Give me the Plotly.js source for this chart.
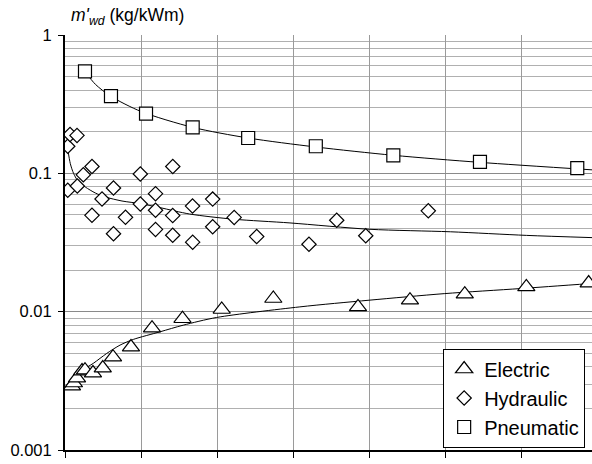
<!DOCTYPE html>
<html>
<head>
<meta charset="utf-8">
<script src="https://cdn.plot.ly/plotly-3.0.1.min.js"></script>
<style>html,body{margin:0;padding:0;overflow:hidden;background:#fff;}</style>
</head>
<body>
<div id="chart" style="width:592px;height:464px;"></div>
<script>
// ---- data ----
const electricX = [0.92, 1.18, 1.58, 2.24, 2.63, 3.68, 4.97, 6.32, 8.68, 11.45, 15.46, 20.62, 27.41, 38.55, 45.39, 52.6, 60.7, 68.9];
const electricY = [0.0029, 0.00305, 0.00331, 0.00372, 0.00378, 0.0036, 0.00391, 0.00469, 0.00555, 0.0076, 0.00889, 0.01037, 0.01245, 0.01083, 0.01211, 0.01337, 0.0151, 0.0161];

const hydraulicX = [0.36, 0.66, 1.58, 0.36, 1.62, 2.41, 3.55, 3.55, 4.87, 6.38, 6.38, 7.96, 9.91, 9.91, 11.91, 11.91, 11.91, 14.18, 14.17, 14.17, 16.78, 16.8, 19.43, 19.43, 22.26, 25.22, 32.1, 35.75, 39.57, 47.8];
const hydraulicY = [0.157, 0.191, 0.188, 0.0754, 0.081, 0.0975, 0.112, 0.0497, 0.0652, 0.0783, 0.0366, 0.0481, 0.0989, 0.06, 0.0713, 0.0541, 0.0393, 0.112, 0.0495, 0.0357, 0.058, 0.0318, 0.0651, 0.0411, 0.048, 0.0349, 0.0307, 0.0458, 0.0354, 0.0536];

const pneumaticX = [2.63, 6.05, 10.66, 16.8, 24.1, 33.0, 43.2, 54.6, 67.4];
const pneumaticY = [0.545, 0.361, 0.27, 0.215, 0.18, 0.157, 0.135, 0.121, 0.109];

// trend lines
const electricTrendX = [0.43, 1.97, 3.72, 5.49, 7.24, 8.99, 12.5, 15.57, 19.96, 30.9, 40.0, 49.9, 60.0, 69.34];
const electricTrendY = [0.0029, 0.00367, 0.00423, 0.00499, 0.00573, 0.0063, 0.00715, 0.00799, 0.00908, 0.01083, 0.0121, 0.0135, 0.0147, 0.016];
const hydraulicTrendX = [0.39, 0.70, 1.14, 1.80, 2.67, 3.99, 5.30, 7.5, 9.91, 12.5, 16.4, 22.2, 29.6, 40.1, 50.7, 60.7, 69.34];
const hydraulicTrendY = [0.1466, 0.1175, 0.0995, 0.0865, 0.0796, 0.0721, 0.0675, 0.0631, 0.0604, 0.0565, 0.0508, 0.0466, 0.0438, 0.0394, 0.0378, 0.0356, 0.0343];
const pneumaticTrendX = [2.63, 4, 6.05, 10, 16.8, 24.1, 33, 43.2, 54.6, 69.34];
const pneumaticTrendY = [0.545, 0.44, 0.36, 0.28, 0.215, 0.18, 0.155, 0.135, 0.12, 0.106];

const yTickVals = [0.001, 0.01, 0.1, 1];
const yTickText = ['0.001', '0.01', '0.1', '1'];
const seriesNames = ['Electric', 'Hydraulic', 'Pneumatic'];

const FONT = 'Liberation Sans, Arial, sans-serif';
const trendLine = {color: '#000', width: 1, shape: 'spline', smoothing: 0.8};

const traces = [
  {x: electricTrendX, y: electricTrendY, mode: 'lines', line: trendLine, showlegend: false, hoverinfo: 'skip'},
  {x: hydraulicTrendX, y: hydraulicTrendY, mode: 'lines', line: trendLine, showlegend: false, hoverinfo: 'skip'},
  {x: pneumaticTrendX, y: pneumaticTrendY, mode: 'lines', line: trendLine, showlegend: false, hoverinfo: 'skip'},
  {x: electricX, y: electricY, name: seriesNames[0], mode: 'markers',
   marker: {symbol: 'triangle-up', size: 15, color: '#fff', line: {color: '#000', width: 1.2}}},
  {x: hydraulicX, y: hydraulicY, name: seriesNames[1], mode: 'markers',
   marker: {symbol: 'diamond', size: 11, color: '#fff', line: {color: '#000', width: 1.2}}},
  {x: pneumaticX, y: pneumaticY, name: seriesNames[2], mode: 'markers',
   marker: {symbol: 'square', size: 13, color: '#fff', line: {color: '#000', width: 1.2}}}
];

const layout = {
  width: 592, height: 464,
  margin: {l: 65, r: 0, t: 35, b: 14, pad: 0},
  paper_bgcolor: '#fff', plot_bgcolor: '#fff',
  font: {family: FONT, size: 16, color: '#000'},
  showlegend: true,
  legend: {
    x: 0.987, y: 0.006, xanchor: 'right', yanchor: 'bottom',
    bgcolor: '#fff', bordercolor: '#000', borderwidth: 1,
    font: {family: FONT, size: 20, color: '#000'},
    itemwidth: 30, tracegroupgap: 0
  },
  xaxis: {
    range: [0, 69.34], dtick: 10, tick0: 0,
    showticklabels: false, ticks: 'outside', ticklen: 6, tickcolor: '#000', tickwidth: 1,
    showgrid: true, gridcolor: '#9a9a9a', gridwidth: 1,
    showline: true, linecolor: '#000', linewidth: 2, zeroline: false
  },
  yaxis: {
    type: 'log', range: [-3, 0],
    tickmode: 'array', tickvals: yTickVals, ticktext: yTickText,
    ticks: 'outside', ticklen: 5, tickcolor: '#000', tickwidth: 1,
    ticklabelstandoff: 3,
    tickfont: {family: FONT, size: 16.5, color: '#000'},
    showgrid: true, gridcolor: '#8a8a8a', gridwidth: 1,
    minor: {dtick: 'D1', tickmode: 'linear', showgrid: true, gridcolor: '#b0b0b0', gridwidth: 1, ticks: ''},
    showline: true, linecolor: '#000', linewidth: 2, zeroline: false
  },
  annotations: [{
    xref: 'paper', yref: 'paper', x: 0.008, y: 1.045, xanchor: 'left', yanchor: 'middle',
    text: "<i>m'</i><sub><i>wd</i></sub> (kg/kWm)", showarrow: false,
    font: {family: FONT, size: 17.5, color: '#000'}
  }]
};

Plotly.newPlot('chart', traces, layout, {staticPlot: true, displayModeBar: false});
</script>
</body>
</html>
